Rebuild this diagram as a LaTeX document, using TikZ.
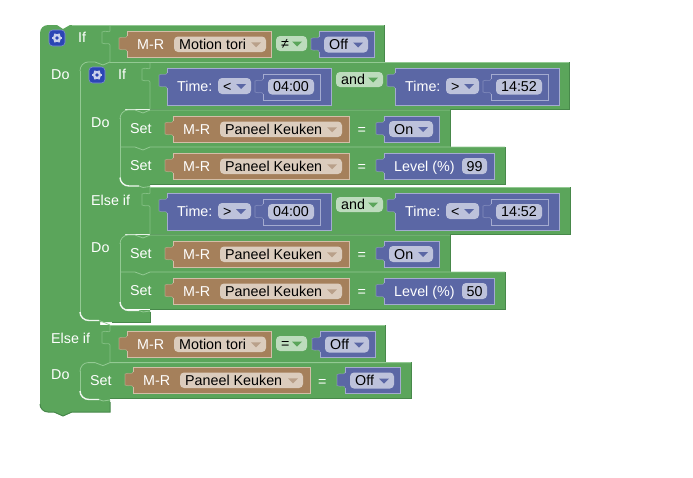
\documentclass[tikz,border=0pt]{standalone}
\usepackage{fontspec}
\setmainfont{Liberation Sans}
\definecolor{grn}{HTML}{5BA55B}
\definecolor{grnL}{HTML}{93C993}
\definecolor{grnD}{HTML}{47884A}
\definecolor{grnF}{HTML}{BDDCBD}
\definecolor{brn}{HTML}{A5805B}
\definecolor{brnL}{HTML}{D3BEA8}
\definecolor{brnF}{HTML}{DBCCBD}
\definecolor{brnA}{HTML}{B9A08A}
\definecolor{prp}{HTML}{5B67A5}
\definecolor{prpL}{HTML}{A4ABD0}
\definecolor{prpF}{HTML}{BDC2DB}
\definecolor{gearblue}{HTML}{2B45B5}
\newcount\nodeno
\newcommand\fs{\fontsize{14.3}{16}\selectfont}
\tikzset{
  lite/.style={draw=grnL,line width=0.8pt},
  dark/.style={draw=grnD,line width=1pt},
  soft/.style={draw=grnL,line width=0.7pt,opacity=.75},
  whiteline/.style={draw=white!85!grnL,line width=1.4pt},
  lbl/.style={anchor=base west,inner sep=0pt,text=white,font=\fs},
  ftx/.style={anchor=base west,inner sep=0pt,text=black,font=\fs}
}
% text label
\newcommand\lab[3]{\global\advance\nodeno by 1
  \node[lbl] (n\the\nodeno) at ({#1},{#2}) {#3};}
\newcommand\ftext[3]{\global\advance\nodeno by 1
  \node[ftx] (n\the\nodeno) at ({#1},{#2}) {#3};}
% field without arrow: x1 y1 x2 y2 fill text
\newcommand\fld[6]{\fill[#5,rounded corners=4pt] ({#1},{#2}) rectangle ({#3},{#4});
  \global\advance\nodeno by 1
  \node[ftx,anchor=base] (n\the\nodeno) at ({(#1+#3)/2},{(#2+#4)/2+5}) {#6};}
% field with dropdown arrow: x1 y1 x2 y2 fill text arrowcolor
\newcommand\dd[7]{\fill[#5,rounded corners=4pt] ({#1},{#2}) rectangle ({#3},{#4});
  \ftext{#1+5}{(#2+#4)/2+5}{#6}
  \fill[#7] ({#3-15},{(#2+#4)/2-2}) -- ({#3-5},{(#2+#4)/2-2}) -- ({#3-10},{(#2+#4)/2+3}) -- cycle;}
% value block with left tab: x1 y1 x2 y2 fill lite
\newcommand\val[6]{
  \fill[#5] ({#1},{#2}) -- ({#3},{#2}) -- ({#3},{#4}) -- ({#1},{#4}) -- ({#1},{#2+20})
   .. controls ({#1-1},{#2+17}) and ({#1-4},{#2+20}) .. ({#1-8},{#2+18})
   -- ({#1-8},{#2+7})
   .. controls ({#1-4},{#2+5}) and ({#1-1},{#2+8}) .. ({#1},{#2+5}) -- cycle;
  \draw[#6,line width=0.6pt,opacity=.55] ({#1},{#2+20})
   .. controls ({#1-1},{#2+17}) and ({#1-4},{#2+20}) .. ({#1-8},{#2+18})
   -- ({#1-8},{#2+7})
   .. controls ({#1-4},{#2+5}) and ({#1-1},{#2+8}) .. ({#1},{#2+5});
  \draw[#6,line width=0.7pt] ({#1},{#2+5}) -- ({#1},{#2}) -- ({#3},{#2}) -- ({#3},{#4}) -- ({#1},{#4}) -- ({#1},{#2+20});}
% socket outline on green: x y1 y2
\newcommand\sock[3]{
  \draw[soft] ({#1},{#2}) -- ({#1},{#2+6}) .. controls ({#1-1},{#2+8}) and ({#1-4},{#2+5}) .. ({#1-8},{#2+7})
   -- ({#1-8},{#2+18}) .. controls ({#1-4},{#2+20}) and ({#1-1},{#2+17}) .. ({#1},{#2+20}) -- ({#1},{#3});}
% C-top line: x y x2
\newcommand\ctop[3]{
  \draw[lite] ({#1},{#2+9}) arc (180:270:8 and 9) -- ({#1+15},{#2}) -- ({#1+23},{#2+3}) -- ({#1+30},{#2}) -- ({#3},{#2});}
% separator with a dip: x y x2
\newcommand\sep[3]{
  \draw[lite] ({#1},{#2}) -- ({#1+15},{#2}) -- ({#1+23},{#2+3}) -- ({#1+30},{#2}) -- ({#3},{#2});}
% C-bottom line: x y
\newcommand\cbot[2]{
  \draw[whiteline] ({#1},{#2-9}) arc (180:90:9 and 8.5) -- ({#1+19},{#2-.5});
  \draw[lite] ({#1+19},{#2-.5}) -- ({#1+23},{#2+1}) -- ({#1+30},{#2});}
% set row: x1 y1 x2 y2
\newcommand\setrow[4]{
  \fill[grn] ({#1},{#2}) rectangle ({#3},{#4});
  \draw[dark] ({#1+30},{#4}) -- ({#3},{#4}) -- ({#3},{#2});}
% gear: x y
\newcommand\gear[2]{
  \fill[gearblue,draw=white!40!gearblue,line width=.6pt,rounded corners=3.5pt] ({#1-8},{#2-8}) rectangle ({#1+8},{#2+8});
  \fill[white!75!gearblue] ({#1},{#2}) circle (4.2);
  \foreach \a in {0,60,...,300}{\draw[white!75!gearblue,line width=1.6pt] ({#1},{#2}) ++(\a:3.5) -- ++(\a:1.5);}
  \fill[gearblue] ({#1},{#2}) circle (1.9);}
% M-R + device block: x (block left) y (top) x2 name fieldx1 fieldx2
\newcommand\mr[6]{
  \val{#1}{#2}{#3}{#2+26}{brn}{brnL}
  \lab{#1+10}{#2+18}{M-R}
  \dd{#5}{#2+5.5}{#6}{#2+21}{brnF}{#4}{brnA}}
% small purple drop-down block
\newcommand\pblock[5]{
  \val{#1}{#2}{#3}{#2+26}{prp}{prpL}
  \dd{#1+5}{#2+5}{#3-6}{#2+21}{prpF}{#4}{prp}}
% Set rows content
\newcommand\setcontent[2]{ % dy, then last block
  \lab{130}{#1+23}{Set}
  \mr{173}{#1+6}{349}{Paneel Keuken}{220}{342}
  \lab{357.5}{#1+24.5}{=}
  #2}
% Time block
\newcommand\timeblock[5]{ % x y op value
  \val{#1}{#2}{#1+164}{#2+37}{prp}{prpL}
  \lab{#1+10}{#2+23}{Time:}
  \dd{#1+51}{#2+10}{#1+84}{#2+26}{prpF}{#3}{prp}
  \val{#1+96}{#2+6}{#1+153}{#2+32}{prp}{prpL}
  \fld{#1+101}{#2+11}{#1+147}{#2+26.5}{prpF}{#4}}
\begin{document}
\begin{tikzpicture}[x=1pt,y=-1pt]
\useasboundingbox (0,0) rectangle (693,477);
% outer silhouette
\fill[grn] (40,33) arc (180:270:8) -- (57,25) -- (63,29) -- (70,25) -- (384,25) -- (384,62) -- (100,62) -- (100,325)
  -- (385,325) -- (385,362) -- (100,362) -- (100,400) -- (110,400) -- (110,412) -- (72,412) -- (63,416) -- (54,412) -- (48,412) arc (90:180:8) -- cycle;
\draw[dark] (384,25) -- (384,62) -- (110,62);
\draw[dark] (385,325) -- (385,362) -- (110,362);
\draw[dark] (110,402) -- (110,412) -- (72,412) -- (63,416) -- (54,412) -- (48,412) arc (90:180:8);
\draw[lite] (72,25) -- (384,25);
\draw[lite] (110,325) -- (385,325);
% inner silhouette
\fill[grn] (80,62) -- (569,62) -- (569,109) -- (125,109) -- (125,184) -- (150,184) -- (150,187) -- (570,187) -- (570,234) -- (125,234)
  -- (125,310) -- (150,310) -- (150,322) -- (80,322) -- cycle;
\draw[dark] (569,62) -- (569,109) -- (150,109);
\draw[dark] (570,187) -- (570,234) -- (150,234);
\draw[dark] (150,312) -- (150,322) -- (112,322);
\draw[lite] (110,62.8) -- (569,62.8);
\draw[lite] (150,187.8) -- (570,187.8);
% set rows
\setrow{120}{110}{450}{147}
\setrow{120}{147}{505}{184}
\setrow{120}{235}{450}{272}
\setrow{120}{272}{505}{309}
\setrow{80}{362}{411}{398}
% last tail
\fill[grn] (80,395) rectangle (110,402);
% C lines outer
\draw[lite] (80,71) -- (80,314);
\ctop{80}{62}{110}
\draw[whiteline] (80,312) arc (180:90:9 and 8.5) -- (99,320.5);
\draw[lite] (99,320.5) -- (103,322) -- (110,325);
\ctop{80}{362.6}{411}
\draw[lite] (80,371) -- (80,392);
\cbot{80}{400}
% C lines inner
\draw[lite] (120,118) -- (120,178);
\draw[lite] (120,243) -- (120,302);
\ctop{120}{110}{450}
\sep{120}{147}{505}
\cbot{120}{186.5}
\ctop{120}{235}{450}
\sep{120}{272}{505}
\cbot{120}{311}
% sockets
\sock{110}{25}{62}
\sock{150}{62}{109}
\sock{150}{187}{234}
\sock{110}{325}{362}
% outer row 1
\gear{57}{38}
\lab{78}{42}{If}
\mr{127}{31}{271}{Motion tori}{174}{266}
\dd{276}{36}{307}{51}{grnF}{≠}{grn}
\pblock{319}{31.5}{374}{Off}{}
\lab{51}{79}{Do}
% inner If
\gear{97}{75}
\lab{118}{79}{If}
\timeblock{167}{68}{<}{04:00}{}
\dd{336}{72}{383}{87}{grnF}{and}{grn}
\timeblock{395}{68}{>}{14:52}{}
\lab{91}{127}{Do}
\setcontent{110}{\pblock{384}{116}{439}{On}{}}
\setcontent{147}{
  \val{384}{153}{494}{179}{prp}{prpL}
  \lab{394}{171}{Level (\%)}
  \fld{462}{158}{487}{174}{prpF}{99}}
\lab{91}{205}{Else if}
\timeblock{167}{193}{>}{04:00}{}
\dd{336}{197}{383}{212}{grnF}{and}{grn}
\timeblock{395}{193}{<}{14:52}{}
\lab{91}{252}{Do}
\setcontent{235}{\pblock{384}{241}{439}{On}{}}
\setcontent{272}{
  \val{384}{278}{494}{304}{prp}{prpL}
  \lab{394}{296}{Level (\%)}
  \fld{462}{283}{487}{299}{prpF}{50}}
% else if outer
\lab{51}{343}{Else if}
\mr{127}{331}{271}{Motion tori}{174}{266}
\dd{276}{336}{307}{351}{grnF}{=}{grn}
\pblock{320}{331.5}{375}{Off}{}
\lab{51}{379}{Do}
\lab{90}{385}{Set}
\mr{133}{367}{310}{Paneel Keuken}{180}{303}
\lab{318}{386}{=}
\pblock{345}{367.5}{400}{Off}{}
\end{tikzpicture}
\end{document}
